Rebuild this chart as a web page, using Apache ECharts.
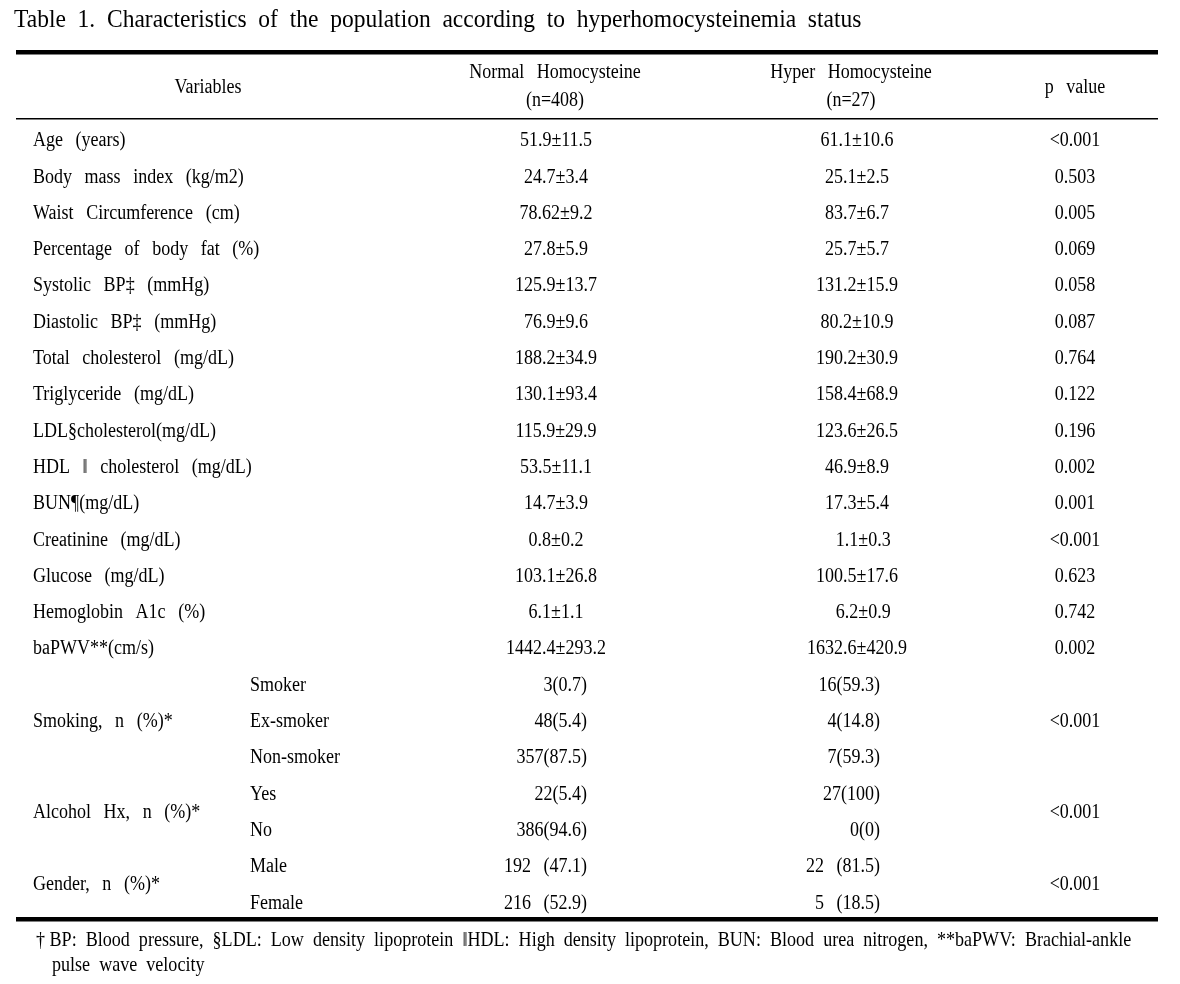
<!DOCTYPE html>
<html><head><meta charset="utf-8">
<script src="https://cdn.jsdelivr.net/npm/echarts@6/dist/echarts.min.js"></script>
<style>html,body{margin:0;padding:0;background:#fff}#main{width:1180px;height:984px}</style>
</head><body><div id="main"></div>
<script>
// ---------- data ----------
const titleText = 'Table 1. Characteristics of the population according to hyperhomocysteinemia status';
const headerVariables = 'Variables';
const headerNormal = ['Normal Homocysteine', '(n=408)'];
const headerHyper = ['Hyper Homocysteine', '(n=27)'];
const headerP = 'p value';

const variables = [
  'Age (years)', 'Body mass index (kg/m2)', 'Waist Circumference (cm)', 'Percentage of body fat (%)',
  'Systolic BP\u2021 (mmHg)', 'Diastolic BP\u2021 (mmHg)', 'Total cholesterol (mg/dL)', 'Triglyceride (mg/dL)',
  'LDL\u00a7cholesterol(mg/dL)', 'HDL \u2016 cholesterol (mg/dL)', 'BUN\u00b6(mg/dL)', 'Creatinine (mg/dL)',
  'Glucose (mg/dL)', 'Hemoglobin A1c (%)', 'baPWV**(cm/s)'
];
const normalValues = [
  '51.9\u00b111.5', '24.7\u00b13.4', '78.62\u00b19.2', '27.8\u00b15.9', '125.9\u00b113.7', '76.9\u00b19.6',
  '188.2\u00b134.9', '130.1\u00b193.4', '115.9\u00b129.9', '53.5\u00b111.1', '14.7\u00b13.9', '0.8\u00b10.2',
  '103.1\u00b126.8', '6.1\u00b11.1', '1442.4\u00b1293.2'
];
const hyperValues = [
  '61.1\u00b110.6', '25.1\u00b12.5', '83.7\u00b16.7', '25.7\u00b15.7', '131.2\u00b115.9', '80.2\u00b110.9',
  '190.2\u00b130.9', '158.4\u00b168.9', '123.6\u00b126.5', '46.9\u00b18.9', '17.3\u00b15.4', ' 1.1\u00b10.3',
  '100.5\u00b117.6', ' 6.2\u00b10.9', '1632.6\u00b1420.9'
];
const pValues = [
  '<0.001', '0.503', '0.005', '0.069', '0.058', '0.087', '0.764', '0.122', '0.196', '0.002', '0.001',
  '<0.001', '0.623', '0.742', '0.002'
];
const groupLabels = ['Smoking, n (%)*', 'Alcohol Hx, n (%)*', 'Gender, n (%)*'];
const groupLevels = [['Smoker', 'Ex-smoker', 'Non-smoker'], ['Yes', 'No'], ['Male', 'Female']];
const groupNormal = [['3(0.7)', '48(5.4)', '357(87.5)'], ['22(5.4)', '386(94.6)'], ['192 (47.1)', '216 (52.9)']];
const groupHyper = [['16(59.3)', '4(14.8)', '7(59.3)'], ['27(100)', '0(0)'], ['22 (81.5)', '5 (18.5)']];
const groupP = ['<0.001', '<0.001', '<0.001'];
const footnoteLines = [
  '\u2020BP: Blood pressure, \u00a7LDL: Low density lipoprotein \u2016HDL: High density lipoprotein, BUN: Blood urea nitrogen, **baPWV: Brachial-ankle',
  'pulse wave velocity'
];

// ---------- layout / style ----------
const FONT = '"Liberation Serif", "Times New Roman", serif';
const FS = 20, SX = 0.9, DY = 2;
const wide = s => s.replace(/ /g, '  \u2009');
const wide2 = s => s.replace(/ /g, '  ');
// column anchors (axis units = px across the page)
const COLS = [
  { x: 33, align: 'left' },    // 0 variable
  { x: 250, align: 'left' },   // 1 sub level
  { x: 556, align: 'center' }, // 2 normal (continuous)
  { x: 587, align: 'right' },  // 3 normal (categorical)
  { x: 857, align: 'center' }, // 4 hyper (continuous)
  { x: 880, align: 'right' },  // 5 hyper (categorical)
  { x: 1075, align: 'center' } // 6 p value
];

// ---------- build cells ----------
const rowNames = [];
const cells = []; // {col, r1, r2, text}
variables.forEach((v, i) => {
  const r = rowNames.length; rowNames.push(v);
  cells.push({ col: 0, r1: r, r2: r, text: v });
  cells.push({ col: 2, r1: r, r2: r, text: normalValues[i] });
  cells.push({ col: 4, r1: r, r2: r, text: hyperValues[i] });
  cells.push({ col: 6, r1: r, r2: r, text: pValues[i] });
});
groupLabels.forEach((g, gi) => {
  const start = rowNames.length;
  groupLevels[gi].forEach((lv, li) => {
    const r = rowNames.length; rowNames.push(g + ' / ' + lv);
    cells.push({ col: 1, r1: r, r2: r, text: lv });
    cells.push({ col: 3, r1: r, r2: r, text: groupNormal[gi][li] });
    cells.push({ col: 5, r1: r, r2: r, text: groupHyper[gi][li] });
  });
  const end = rowNames.length - 1;
  cells.push({ col: 0, r1: start, r2: end, text: g });
  cells.push({ col: 6, r1: start, r2: end, text: groupP[gi] });
});

function txt(x, y, text, align, fs, sx) {
  return {
    type: 'text', x: x, y: y + DY, scaleX: sx, silent: true,
    style: { text: text, fill: '#000', font: fs + 'px ' + FONT, align: align, verticalAlign: 'middle' }
  };
}

const chart = echarts.init(document.getElementById('main'), null, { renderer: 'canvas' });
chart.setOption({
  backgroundColor: '#fff',
  animation: false,
  grid: { left: 0, right: 0, top: 120.85, bottom: 64.55, containLabel: false },
  xAxis: { type: 'value', min: 0, max: 1180, show: false },
  yAxis: { type: 'category', data: rowNames, inverse: true, show: false, boundaryGap: true },
  series: [{
    type: 'custom',
    coordinateSystem: 'cartesian2d',
    data: cells.map(c => [c.col, c.r1, c.r2]),
    encode: { x: 0, y: 1 },
    renderItem: function (params, api) {
      const c = cells[params.dataIndex];
      const col = COLS[c.col];
      const p1 = api.coord([col.x, c.r1]);
      const p2 = api.coord([col.x, c.r2]);
      return txt(p1[0], (p1[1] + p2[1]) / 2, wide(c.text), col.align, FS, SX);
    }
  }],
  graphic: [
    txt(14, 18, wide2(titleText), 'left', 25, 0.94),
    { type: 'rect', shape: { x: 16, y: 50, width: 1142, height: 4.5 }, style: { fill: '#000' }, silent: true },
    { type: 'rect', shape: { x: 16, y: 118, width: 1142, height: 1.6 }, style: { fill: '#000' }, silent: true },
    { type: 'rect', shape: { x: 16, y: 917, width: 1142, height: 4.5 }, style: { fill: '#000' }, silent: true },
    txt(208, 86, wide(headerVariables), 'center', FS, SX),
    txt(555, 71, wide(headerNormal[0]), 'center', FS, SX),
    txt(555, 99, wide(headerNormal[1]), 'center', FS, SX),
    txt(851, 71, wide(headerHyper[0]), 'center', FS, SX),
    txt(851, 99, wide(headerHyper[1]), 'center', FS, SX),
    txt(1075, 86, wide(headerP), 'center', FS, SX),
    txt(36, 938, wide2(footnoteLines[0]).replace('\u2020', '\u2020 '), 'left', 21, 0.86),
    txt(52, 963, wide2(footnoteLines[1]), 'left', 21, 0.86)
  ]
});
</script></body></html>
